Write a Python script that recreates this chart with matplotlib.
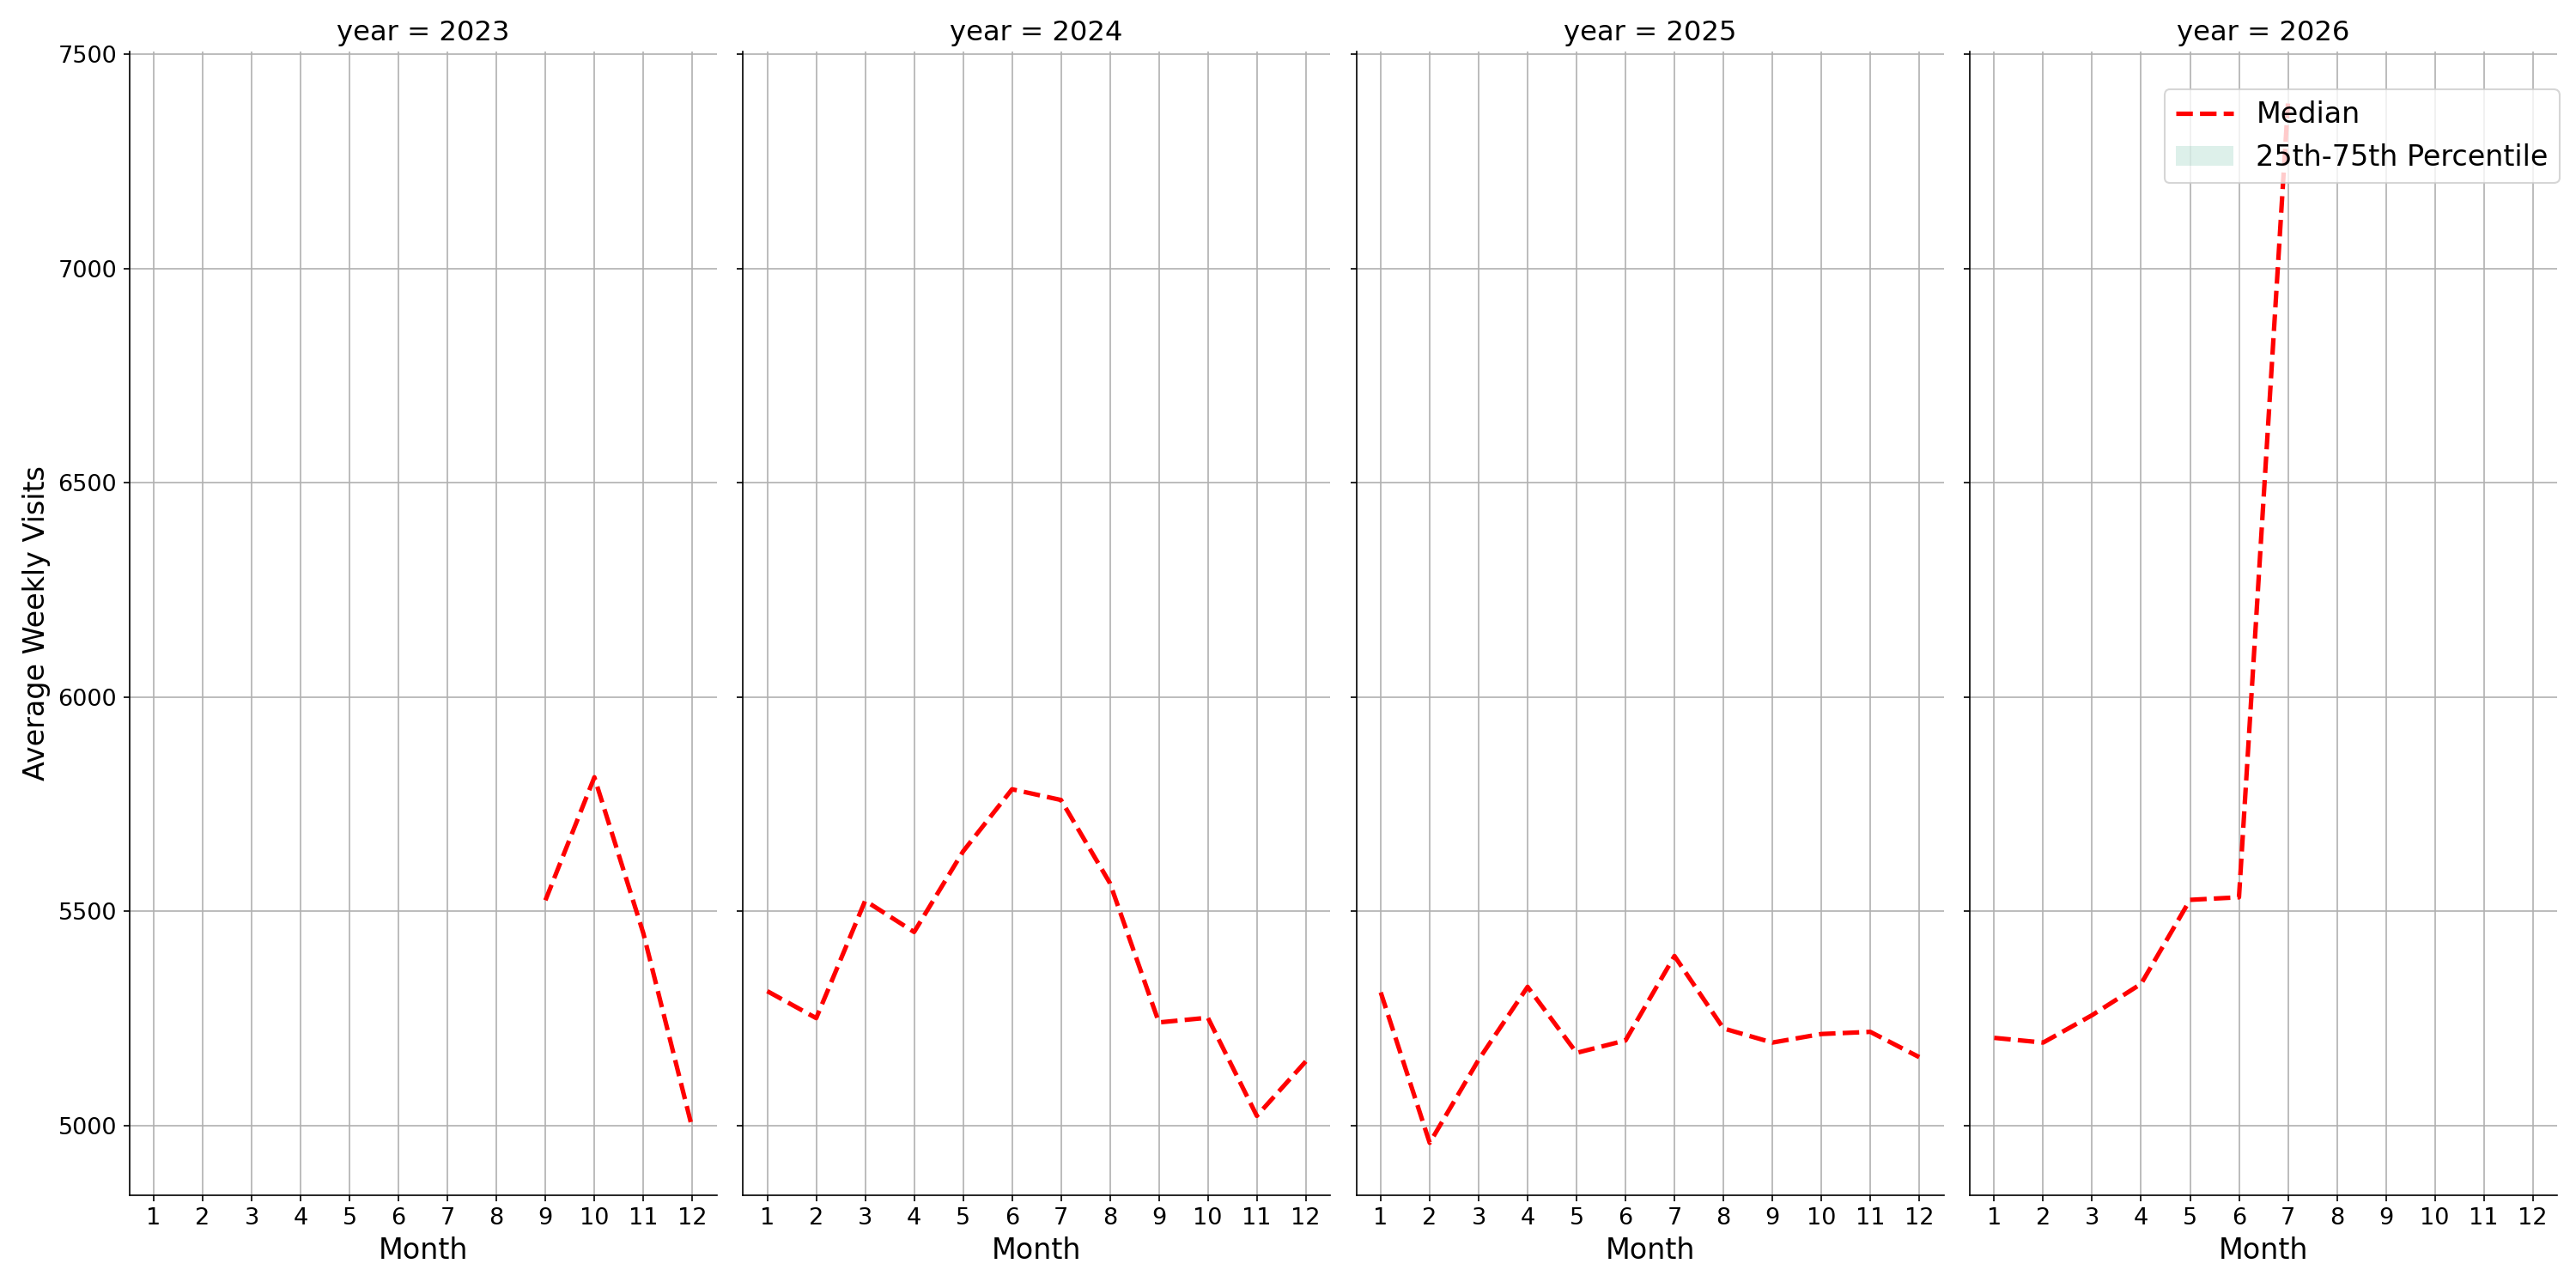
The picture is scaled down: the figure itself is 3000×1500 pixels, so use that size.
import matplotlib
matplotlib.use("Agg")
import matplotlib.pyplot as plt

# Monthly median of average weekly visits, one list per year (None = no data)
months = list(range(1, 13))
years = [2023, 2024, 2025, 2026]

median_2023 = [None, None, None, None, None, None, None, None, 5526, 5813, 5449, 4994]
median_2024 = [5314, 5251, 5525, 5452, 5640, 5785, 5760, 5566, 5241, 5252, 5023, 5150]
median_2025 = [5311, 4960, 5154, 5324, 5170, 5199, 5396, 5227, 5194, 5214, 5219, 5160]
median_2026 = [5205, 5194, 5258, 5331, 5527, 5533, 7385, None, None, None, None, None]

# the percentile band collapses onto the median in every month
p25_2023, p75_2023 = list(median_2023), list(median_2023)
p25_2024, p75_2024 = list(median_2024), list(median_2024)
p25_2025, p75_2025 = list(median_2025), list(median_2025)
p25_2026, p75_2026 = list(median_2026), list(median_2026)

medians = [median_2023, median_2024, median_2025, median_2026]
p25s = [p25_2023, p25_2024, p25_2025, p25_2026]
p75s = [p75_2023, p75_2024, p75_2025, p75_2026]

_RED = "red"
_BAND = "#1b9e77"


def _nan(vals):
    return [float("nan") if v is None else v for v in vals]


fig, axes = plt.subplots(1, 4, figsize=(20, 10), dpi=150, sharey=True)
fig.subplots_adjust(left=0.0502, right=0.9927, top=1 - 60 / 1500,
                    bottom=1 - 1391.5 / 1500, wspace=0.0443)

for ax, year, med, lo, hi in zip(axes, years, medians, p25s, p75s):
    ax.fill_between(months, _nan(lo), _nan(hi), color=_BAND, alpha=0.15,
                    linewidth=0, label="25th-75th Percentile")
    ax.plot(months, _nan(med), color=_RED, linestyle="--", linewidth=2.5,
            label="Median")
    ax.set_title(f"year = {year}", fontsize=15.5)
    ax.set_xlabel("Month", fontsize=16)
    ax.set_xticks(months)
    ax.set_xlim(0.5, 12.5)
    ax.tick_params(labelsize=13)
    ax.grid(True)
    ax.set_axisbelow(True)
    for side in ("top", "right"):
        ax.spines[side].set_visible(False)

axes[0].set_ylabel("Average Weekly Visits", fontsize=16)

handles, labels = axes[-1].get_legend_handles_labels()
order = [labels.index("Median"), labels.index("25th-75th Percentile")]
fig.legend([handles[i] for i in order], [labels[i] for i in order],
           loc="upper right", bbox_to_anchor=(2981 / 3000, 1 - 104 / 1500),
           borderaxespad=0, fontsize=16)

fig.savefig("out.png", dpi=150, facecolor="white")
plt.close(fig)
